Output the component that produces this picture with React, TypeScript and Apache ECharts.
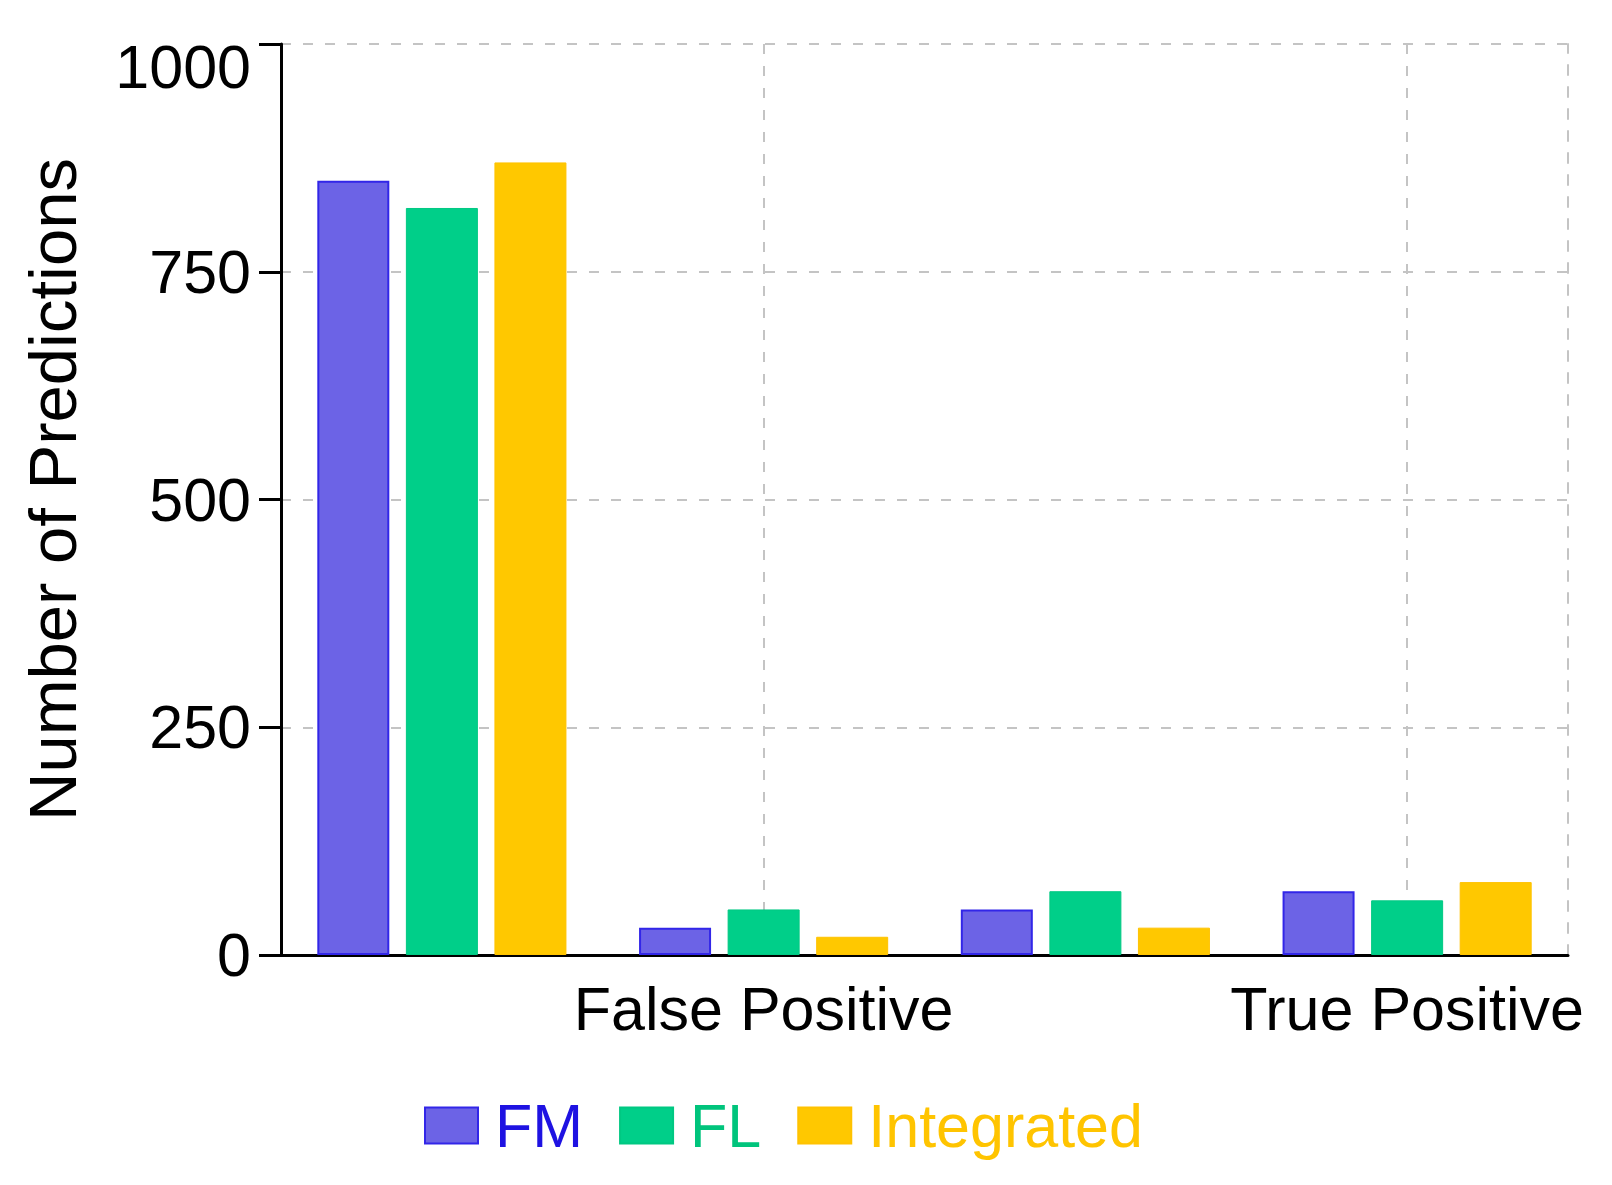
import React, { useEffect, useRef } from "react";
import * as echarts from "echarts";

const categories = ["True Negative", "False Positive", "False Negative", "True Positive"];
const fmValues = [850, 30, 50, 70];
const flValues = [820, 50, 70, 60];
const integratedValues = [870, 20, 30, 80];
const yTicks = [0, 250, 500, 750, 1000];

const FONT = "Liberation Sans";

export default function App() {
  const ref = useRef<HTMLDivElement>(null);
  useEffect(() => {
    if (!ref.current) return;
    const chart = echarts.init(ref.current, undefined, { renderer: "svg" });
    const dash = [10, 12];
    const showOdd = (i: number) => i % 2 === 1;
    chart.setOption({
      animation: false,
      backgroundColor: "#ffffff",
      textStyle: { fontFamily: FONT },
      grid: { left: 273, right: 36, top: 36, bottom: 222, containLabel: false },
      legend: {
        left: 411,
        top: 1082,
        itemWidth: 53,
        itemHeight: 36,
        itemGap: 36,
        icon: "rect",
        textStyle: { fontSize: 61, fontFamily: FONT, padding: [0, 0, 0, 12] },
        data: [
          { name: "FM", textStyle: { color: "#1e12e2" } },
          { name: "FL", textStyle: { color: "#00c47c" } },
          { name: "Integrated", textStyle: { color: "#ffc400" } },
        ],
      },
      xAxis: {
        type: "category",
        data: categories,
        boundaryGap: true,
        axisLine: { lineStyle: { color: "#000", width: 3 } },
        axisTick: {
          alignWithLabel: true,
          length: 22,
          interval: showOdd,
          lineStyle: { color: "#000", width: 3 },
        },
        axisLabel: {
          interval: showOdd,
          color: "#000",
          fontSize: 61,
          fontFamily: FONT,
          margin: 23,
        },
        splitLine: {
          show: true,
          alignWithLabel: true,
          interval: showOdd,
          lineStyle: { color: "#c4c4c4", width: 2, type: dash },
        },
      },
      yAxis: [
        {
          type: "value",
          min: 0,
          max: 1000,
          interval: 250,
          name: "Number of Predictions",
          nameLocation: "middle",
          nameGap: 195,
          nameTextStyle: { fontSize: 67, color: "#000", fontFamily: FONT, padding: [0, 0, 0, 20] },
          axisLine: { show: true, lineStyle: { color: "#000", width: 3 } },
          axisTick: { show: true, length: 22, lineStyle: { color: "#000", width: 3 } },
          axisLabel: {
            color: "#000",
            fontSize: 61,
            fontFamily: FONT,
            margin: 30,
            formatter: (v: number) => (v === yTicks[yTicks.length - 1] ? `{top|${v}}` : `${v}`),
            rich: { top: { fontSize: 61, fontFamily: FONT, color: "#000", padding: [46, 0, 0, 0] } },
          },
          splitLine: { show: true, lineStyle: { color: "#c4c4c4", width: 2, type: dash } },
        },
        {
          type: "value",
          position: "right",
          min: 0,
          max: 1000,
          interval: 250,
          axisLine: { show: true, lineStyle: { color: "#c4c4c4", width: 2, type: dash } },
          axisTick: { show: false },
          axisLabel: { show: false },
          splitLine: { show: false },
        },
      ],
      series: [
        {
          name: "FM",
          type: "bar",
          data: fmValues,
          barWidth: 72,
          barGap: "23%",
          itemStyle: { color: "#6c63e6", borderColor: "#3226e8", borderWidth: 2 },
        },
        {
          name: "FL",
          type: "bar",
          data: flValues,
          barWidth: 72,
          barGap: "23%",
          itemStyle: { color: "#00cf89", borderColor: "#00c882", borderWidth: 1 },
        },
        {
          name: "Integrated",
          type: "bar",
          data: integratedValues,
          barWidth: 72,
          barGap: "23%",
          itemStyle: { color: "#ffc800", borderColor: "#ffc200", borderWidth: 1 },
        },
      ],
    });
    return () => chart.dispose();
  }, []);
  return <div ref={ref} style={{ width: 1596, height: 1169 }} />;
}
